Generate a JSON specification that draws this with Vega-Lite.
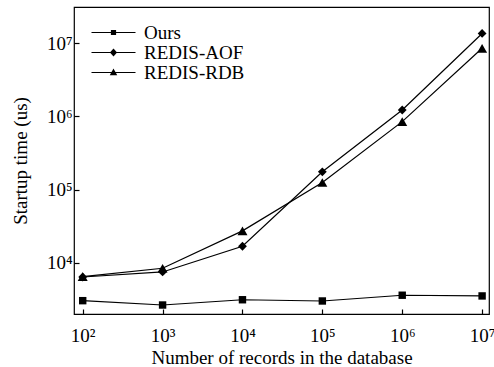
{
  "$schema": "https://vega.github.io/schema/vega-lite/v6.json",
  "width": 415,
  "height": 307,
  "autosize": {"type": "none"},
  "padding": {"left": 74, "top": 7, "right": 5, "bottom": 53},
  "background": "white",
  "config": {
    "font": "Liberation Serif",
    "view": {"stroke": "black", "strokeWidth": 1.2},
    "axis": {
      "domain": false,
      "grid": false,
      "tickColor": "black",
      "tickSize": -5,
      "tickWidth": 1.2,
      "labelFont": "Liberation Serif",
      "labelFontSize": 19,
      "labelColor": "black",
      "titleFont": "Liberation Serif",
      "titleFontSize": 19,
      "titleFontWeight": "normal",
      "titleColor": "black"
    }
  },
  "data": {
    "values": [
      {"series": "Ours", "n": 100, "t": 3060},
      {"series": "Ours", "n": 1000, "t": 2670},
      {"series": "Ours", "n": 10000, "t": 3150},
      {"series": "Ours", "n": 100000, "t": 3030},
      {"series": "Ours", "n": 1000000, "t": 3630},
      {"series": "Ours", "n": 10000000, "t": 3550},
      {"series": "REDIS-AOF", "n": 100, "t": 6440},
      {"series": "REDIS-AOF", "n": 1000, "t": 7540},
      {"series": "REDIS-AOF", "n": 10000, "t": 16900},
      {"series": "REDIS-AOF", "n": 100000, "t": 175000},
      {"series": "REDIS-AOF", "n": 1000000, "t": 1220000},
      {"series": "REDIS-AOF", "n": 10000000, "t": 13500000},
      {"series": "REDIS-RDB", "n": 100, "t": 6500},
      {"series": "REDIS-RDB", "n": 1000, "t": 8470},
      {"series": "REDIS-RDB", "n": 10000, "t": 27400},
      {"series": "REDIS-RDB", "n": 100000, "t": 125000},
      {"series": "REDIS-RDB", "n": 1000000, "t": 847000},
      {"series": "REDIS-RDB", "n": 10000000, "t": 8470000}
    ]
  },
  "encoding": {
    "x": {
      "field": "n", "type": "quantitative",
      "scale": {"type": "log", "domain": [77.8, 12200000], "nice": false},
      "axis": {
        "values": [100, 1000, 10000, 100000, 1000000, 10000000],
        "labelExpr": "'10' + ['⁰','¹','²','³','⁴','⁵','⁶','⁷'][round(log(datum.value)/LN10)]",
        "labelPadding": 17,
        "title": "Number of records in the database",
        "titlePadding": 3
      }
    },
    "y": {
      "field": "t", "type": "quantitative",
      "scale": {"type": "log", "domain": [2013, 31000000], "nice": false},
      "axis": {
        "values": [10000, 100000, 1000000, 10000000],
        "labelExpr": "'10' + ['⁰','¹','²','³','⁴','⁵','⁶','⁷'][round(log(datum.value)/LN10)]",
        "labelPadding": 7,
        "title": "Startup time (us)",
        "titlePadding": 16
      }
    }
  },
  "layer": [
    {
      "mark": {"type": "line", "color": "black", "strokeWidth": 1.2},
      "encoding": {"detail": {"field": "series"}}
    },
    {
      "mark": {"type": "point", "filled": true, "color": "black", "opacity": 1},
      "encoding": {
        "shape": {
          "field": "series", "type": "nominal",
          "scale": {"domain": ["Ours", "REDIS-AOF", "REDIS-RDB"], "range": ["square", "diamond", "triangle-up"]},
          "legend": null
        },
        "size": {
          "field": "series", "type": "nominal",
          "scale": {"domain": ["Ours", "REDIS-AOF", "REDIS-RDB"], "range": [55, 100, 75]},
          "legend": null
        }
      }
    },
    {
      "transform": [{"filter": "datum.t < 0"}],
      "mark": {"type": "point", "filled": false, "color": "black", "opacity": 1, "strokeWidth": 1.2},
      "encoding": {
        "shape": {
          "field": "series", "type": "nominal",
          "scale": {
            "domain": ["Ours", "REDIS-AOF", "REDIS-RDB"],
            "range": [
              "M-4.4,0H4.4M-0.4,-0.4H0.4V0.4H-0.4ZM-0.4,-0.2H0.4M-0.4,0.2H0.4",
              "M-4.4,0H4.4M0,-0.6L0.55,0L0,0.6L-0.55,0ZM-0.18,-0.4H0.18M-0.37,-0.2H0.37M-0.37,0.2H0.37M-0.18,0.4H0.18",
              "M-4.4,0H4.4M0,-0.55L0.55,0.45H-0.55ZM-0.14,-0.3H0.14M-0.25,-0.1H0.25M-0.36,0.1H0.36M-0.47,0.3H0.47"
            ]
          },
          "legend": {
            "title": null,
            "orient": "none",
            "legendX": 30,
            "legendY": 16,
            "padding": 0,
            "symbolSize": 100,
            "labelOffset": 21,
            "rowPadding": -1,
            "labelFont": "Liberation Serif",
            "labelFontSize": 19,
            "labelColor": "black",
            "symbolStrokeWidth": 1.2,
            "symbolStrokeColor": "black",
            "encode": {
              "symbols": {
                "update": {
                  "fill": {"value": "black"},
                  "fillOpacity": {"value": 1}
                }
              }
            }
          }
        }
      }
    }
  ],
  "resolve": {"scale": {"shape": "independent", "size": "independent"}}
}
